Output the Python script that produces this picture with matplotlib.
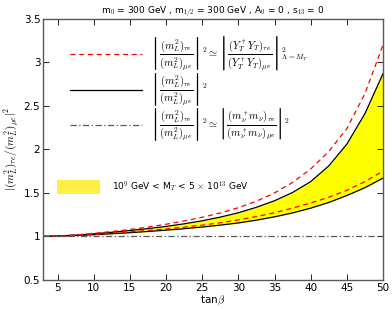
import matplotlib
matplotlib.use("Agg")
import matplotlib.pyplot as plt
from matplotlib.patches import Rectangle

plt.rcParams['mathtext.fontset'] = 'cm'
plt.rcParams['font.family'] = 'DejaVu Sans'

# tan(beta) grid and curve values
tanb = [3, 5, 7.5, 10, 12.5, 15, 17.5, 20, 22.5, 25, 27.5, 30, 32.5, 35, 37.5,
        40, 42.5, 45, 47.5, 50]
red_upper = [1.0, 1.006, 1.018, 1.035, 1.056, 1.08, 1.108, 1.14, 1.178, 1.22,
             1.27, 1.33, 1.405, 1.5, 1.62, 1.775, 1.975, 2.24, 2.64, 3.2]
black_upper = [1.0, 1.005, 1.015, 1.03, 1.048, 1.068, 1.09, 1.115, 1.145, 1.18,
               1.222, 1.272, 1.335, 1.41, 1.505, 1.63, 1.81, 2.06, 2.41, 2.87]
red_lower = [1.0, 1.004, 1.012, 1.024, 1.037, 1.052, 1.068, 1.087, 1.107, 1.13,
             1.157, 1.19, 1.228, 1.272, 1.325, 1.385, 1.45, 1.53, 1.63, 1.75]
black_lower = [1.0, 1.003, 1.01, 1.02, 1.031, 1.043, 1.057, 1.072, 1.089, 1.108,
               1.13, 1.155, 1.187, 1.225, 1.27, 1.325, 1.39, 1.47, 1.56, 1.67]
neutrino = [1.0] * len(tanb)

xticks = [5, 10, 15, 20, 25, 30, 35, 40, 45, 50]
yticks = [0.5, 1, 1.5, 2, 2.5, 3, 3.5]

fig = plt.figure(figsize=(3.92, 3.09), dpi=100)
ax = fig.add_axes([0.110, 0.094, 0.867, 0.845])

ax.fill_between(tanb, black_lower, black_upper, color='#ffff00', lw=0)
ax.plot(tanb, black_upper, color='black', lw=0.9)
ax.plot(tanb, black_lower, color='black', lw=0.9)
ax.plot(tanb, red_upper, color='red', lw=0.9, ls=(0, (4, 3)))
ax.plot(tanb, red_lower, color='red', lw=0.9, ls=(0, (4, 3)))
ax.plot(tanb, neutrino, color='0.35', lw=0.9, ls=(0, (5, 2, 1, 2)))

ax.set_xlim(3, 50)
ax.set_ylim(0.5, 3.5)
ax.set_xticks(xticks)
ax.set_yticks(yticks)
ax.set_yticklabels(['%g' % v for v in yticks])
ax.tick_params(direction='in', top=True, right=True, labelsize=7.5,
               length=4, width=0.6, pad=2)
for s in ax.spines.values():
    s.set_color('0.35')
    s.set_linewidth(1.0)

ax.set_xlabel(r'tan$\beta$', fontsize=7.5, labelpad=1)
ax.set_ylabel(r'$|(m_L^2)_{\tau e}/(m_L^2)_{\mu e}|^2$', fontsize=8, labelpad=2)
ax.set_title(r'm$_0$ = 300 GeV , m$_{1/2}$ = 300 GeV , A$_0$ = 0 , s$_{13}$ = 0',
             fontsize=6.5, pad=3)

# legend built by hand
ratio = r'\left|\dfrac{(m_L^2)_{\tau e}}{(m_L^2)_{\mu e}}\right|^2'
f1 = (r'$' + ratio + r'\simeq\left|\dfrac{(Y_T^\dagger Y_T)_{\tau e}}'
      r'{(Y_T^\dagger Y_T)_{\mu e}}\right|^2_{\Lambda = M_T}$')
f2 = r'$' + ratio + r'$'
f3 = (r'$' + ratio + r'\simeq\left|\dfrac{(m_\nu^\dagger m_\nu)_{\tau e}}'
      r'{(m_\nu^\dagger m_\nu)_{\mu e}}\right|^2$')

ax.plot([0.079, 0.291], [0.866, 0.866], transform=ax.transAxes, color='red',
        lw=0.9, ls=(0, (4, 3)))
ax.plot([0.079, 0.291], [0.728, 0.728], transform=ax.transAxes, color='black',
        lw=0.9)
ax.plot([0.079, 0.291], [0.594, 0.594], transform=ax.transAxes, color='0.35',
        lw=0.9, ls=(0, (5, 2, 1, 2)))
ax.text(0.315, 0.866, f1, transform=ax.transAxes, fontsize=7.6, va='center')
ax.text(0.315, 0.728, f2, transform=ax.transAxes, fontsize=7.6, va='center')
ax.text(0.315, 0.594, f3, transform=ax.transAxes, fontsize=7.6, va='center')

ax.add_patch(Rectangle((0.041, 0.33), 0.126, 0.053, transform=ax.transAxes,
                       color='#ffee44', lw=0))
ax.text(0.203, 0.356, r'10$^9$ GeV < M$_T$ < 5 $\times$ 10$^{13}$ GeV',
        transform=ax.transAxes, fontsize=6.5, va='center')

fig.savefig('out.png', dpi=100)
